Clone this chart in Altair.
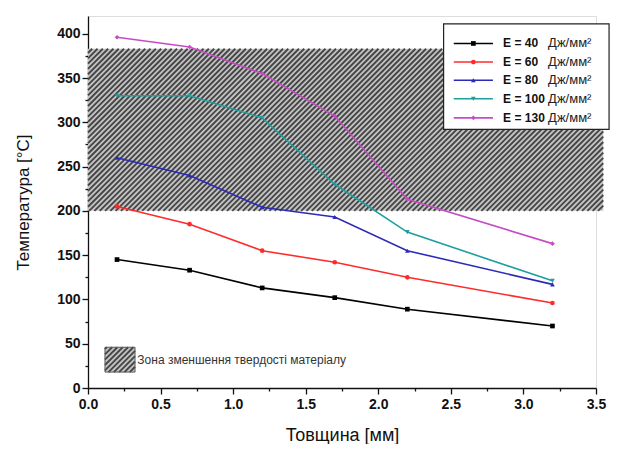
import altair as alt
import pandas as pd

# ---------------- data ----------------
x_mm = [0.2, 0.7, 1.2, 1.7, 2.2, 3.2]
series = ["E = 40", "E = 60", "E = 80", "E = 100", "E = 130"]
t40 = [145, 133, 113, 102, 89, 70]
t60 = [205, 185, 155, 142, 125, 96]
t80 = [260, 240, 204, 193, 155, 117]
t100 = [330, 330, 305, 230, 176, 121]
t130 = [396, 385, 355, 307, 213, 163]
unit = "Дж/мм²"
zone_low, zone_high = 200, 383
zone_label = "Зона зменшення твердості матеріалу"
x_ticks = [i * 0.25 for i in range(15)]
y_ticks = [i * 25 for i in range(17)]

# ---------------- style / layout ----------------
colors = ["#000000", "#ff2b2b", "#2b2bb8", "#1f9e9e", "#c64cc6"]
shapes = ["square", "circle", "triangle-up", "triangle-down", "diamond"]
W, H = 508, 372
XMAX, YMAX = 3.5, 420
sx, sy = W / XMAX, H / YMAX
FONT = "Liberation Sans"

rows = []
for s, vals in zip(series, [t40, t60, t80, t100, t130]):
    for x, v in zip(x_mm, vals):
        rows.append({"s": s, "x": x, "y": v})
df = pd.DataFrame(rows)

xscale = alt.Scale(domain=[0, XMAX], nice=False, zero=False)
yscale = alt.Scale(domain=[0, YMAX], nice=False, zero=False)
xaxis = alt.Axis(
    values=x_ticks, title="Товщина [мм]", grid=False,
    labelExpr="datum.value % 0.5 === 0 ? format(datum.value, '.1f') : ''",
    labelFont=FONT, labelFontSize=14, labelFontWeight="bold", labelColor="#111",
    labelFlush=False, labelOverlap=False, labelPadding=3,
    tickSize={"condition": {"test": "datum.value % 0.5 !== 0", "value": 3}, "value": 6},
    tickColor="#111", domainColor="#111", domainWidth=1.3, tickWidth=1.3,
    titleFont=FONT, titleFontSize=18, titleFontWeight="normal", titleColor="#111",
    titlePadding=15,
)
yaxis = alt.Axis(
    values=y_ticks, title="Температура [°C]", grid=False,
    labelExpr="datum.value % 50 === 0 ? format(datum.value, 'd') : ''",
    labelFont=FONT, labelFontSize=14, labelFontWeight="bold", labelColor="#111",
    labelFlush=False, labelOverlap=False, labelPadding=2,
    tickSize={"condition": {"test": "datum.value % 50 !== 0", "value": 3}, "value": 6},
    tickColor="#111", domainColor="#111", domainWidth=1.3, tickWidth=1.3,
    titleFont=FONT, titleFontSize=17, titleFontWeight="normal", titleColor="#111",
    titlePadding=24,
)


def X(f):
    return alt.X(f, type="quantitative", scale=xscale, axis=xaxis)


def Y(f):
    return alt.Y(f, type="quantitative", scale=yscale, axis=yaxis)


def hatch(x0, x1, y0, y1, step=5.3):
    X0, X1, Y0, Y1 = x0 * sx, x1 * sx, y0 * sy, y1 * sy
    segs = []
    c = Y0 - X1
    while c < Y1 - X0:
        a = max(X0, Y0 - c)
        b = min(X1, Y1 - c)
        if b > a:
            segs.append({"x": a / sx, "y": (a + c) / sy, "x2": b / sx, "y2": (b + c) / sy})
        c += step
    return pd.DataFrame(segs)


def hatched_rect(x0, x1, y0, y1, border=None):
    bg = pd.DataFrame([{"x": x0, "x2": x1, "y": y0, "y2": y1}])
    r = alt.Chart(bg).mark_rect(fill="#c4c4c4").encode(
        x=X("x"), x2="x2", y=Y("y"), y2="y2")
    h = alt.Chart(hatch(x0, x1, y0, y1)).mark_rule(
        color="#464646", strokeWidth=1.9
    ).encode(x=X("x"), x2="x2", y=Y("y"), y2="y2")
    layers = [r, h]
    if border:
        layers.append(alt.Chart(bg).mark_rect(fill=None, stroke=border, strokeWidth=1)
                      .encode(x=X("x"), x2="x2", y=Y("y"), y2="y2"))
    return layers


zone = hatched_rect(0, 3.55, zone_low, zone_high)
key_box = hatched_rect(0.117, 0.324, 18, 46, border="#555")
key_text = alt.Chart(pd.DataFrame([{"x": 0.34, "y": 32, "t": zone_label}])).mark_text(
    align="left", baseline="middle", font=FONT, fontSize=12, color="#333"
).encode(x=X("x"), y=Y("y"), text="t")

color = alt.Color("s:N", scale=alt.Scale(domain=series, range=colors), legend=None)
shape = alt.Shape("s:N", scale=alt.Scale(domain=series, range=shapes), legend=None)

lines = alt.Chart(df).mark_line(strokeWidth=1.6).encode(
    x=X("x"), y=Y("y"), color=color, detail="s:N")
pts = alt.Chart(df).mark_point(filled=True, size=22, opacity=1).encode(
    x=X("x"), y=Y("y"), color=color, shape=shape)

# custom legend
leg_y = [389, 368, 347.5, 326.5, 305]
leg = pd.DataFrame({"s": series, "y": leg_y, "xa": 2.52, "xb": 2.79, "xm": 2.655,
                    "xt": 2.86, "xu": 3.17, "u": unit})
leg_box = alt.Chart(pd.DataFrame([{"x": 2.45, "x2": 3.59, "y": 292, "y2": 411}])).mark_rect(
    fill="white", stroke="#222", strokeWidth=1.2
).encode(x=X("x"), x2="x2", y=Y("y"), y2="y2")
leg_lines = alt.Chart(leg).mark_rule(strokeWidth=1.6).encode(
    x=X("xa"), x2="xb", y=Y("y"), color=color)
leg_pts = alt.Chart(leg).mark_point(filled=True, size=22, opacity=1).encode(
    x=X("xm"), y=Y("y"), color=color, shape=shape)
leg_txt = alt.Chart(leg).mark_text(
    align="left", baseline="middle", font=FONT, fontSize=12, fontWeight="bold", color="#111"
).encode(x=X("xt"), y=Y("y"), text="s:N")
leg_unit = alt.Chart(leg).mark_text(
    align="left", baseline="middle", font=FONT, fontSize=13, color="#222"
).encode(x=X("xu"), y=Y("y"), text="u:N")

chart = alt.layer(
    *zone, *key_box, key_text, lines, pts,
    leg_box, leg_lines, leg_pts, leg_txt, leg_unit
).properties(
    width=W, height=H,
    padding={"left": 6, "top": 8, "right": 0, "bottom": 0},
).configure_view(stroke=None).configure(background="white")

chart.save("out.html", embed_options={"renderer": "svg", "actions": False})
